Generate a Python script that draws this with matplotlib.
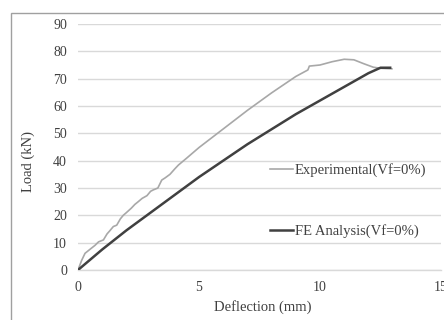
import matplotlib.pyplot as plt
from matplotlib.patches import Rectangle

# values
exp_defl = [0, 0.15, 0.29, 0.5, 0.7, 0.85, 1.05, 1.2, 1.3, 1.46, 1.6, 1.75, 1.87,
            2.0, 2.2, 2.35, 2.49, 2.65, 2.85, 3.0, 3.11, 3.3, 3.46, 3.6, 3.8, 4.0,
            4.15, 4.5, 5.0, 5.5, 6.0, 6.5, 7.0, 7.5, 8.0, 8.5, 9.0, 9.46, 9.5,
            9.56, 10.0, 10.5, 11.0, 11.4, 11.8, 12.2, 12.5, 12.97]
exp_load = [0, 3.5, 6.1, 7.6, 9.0, 10.3, 11.0, 13.2, 14.2, 15.9, 16.4, 18.7, 20.0,
            21.0, 22.6, 24.0, 25.0, 26.2, 27.2, 28.8, 29.3, 30.0, 32.9, 33.7, 35.0, 37.0,
            38.4, 41.0, 44.8, 48.2, 51.6, 55.0, 58.4, 61.6, 64.8, 67.8, 70.8, 73.0, 73.2,
            74.6, 75.0, 76.2, 77.1, 76.9, 75.5, 74.2, 73.8, 73.6]

fe_defl = [0, 1, 2, 3, 4, 5, 6, 7, 8, 9, 10, 11, 12, 12.5, 12.9]
fe_load = [0, 7.5, 14.5, 21, 27.5, 34, 40, 46, 51.5, 57, 62, 67, 72, 74, 74]

x_ticks = [0, 5, 10, 15]
y_ticks = [0, 10, 20, 30, 40, 50, 60, 70, 80, 90]

plt.rcParams["font.family"] = ["Liberation Serif", "DejaVu Serif"]
TEXT = "#404040"

fig = plt.figure(figsize=(4.44, 3.2), dpi=100)
fig.patches.append(Rectangle((11 / 444, -0.1), 1.0, 1 - 13 / 320 + 0.1,
                             transform=fig.transFigure, fill=False,
                             edgecolor="#a0a0a0", linewidth=1.0, clip_on=False))

ax = fig.add_axes([78 / 444, 1 - 270 / 320, 363 / 444, 246 / 320])
ax.plot(exp_defl, exp_load, color="#a8a8a8", linewidth=1.2,
        label="Experimental(Vf=0%)", zorder=3)
ax.plot(fe_defl, fe_load, color="#404040", linewidth=1.8,
        label="FE Analysis(Vf=0%)", zorder=3)

ax.set_xlim(0, 15)
ax.set_ylim(0, 90)
ax.set_xticks(x_ticks)
ax.set_yticks(y_ticks)
ax.tick_params(length=0, labelsize=10, colors=TEXT, pad=8)
ax.yaxis.grid(True, color="#d9d9d9", linewidth=1.0)
ax.set_axisbelow(True)
for side in ["top", "right", "left"]:
    ax.spines[side].set_visible(False)
ax.spines["bottom"].set_color("#d9d9d9")
ax.spines["bottom"].set_linewidth(1.0)

ax.set_xlabel("Deflection (mm)", fontsize=10.5, color=TEXT, va="center")
ax.xaxis.set_label_coords(0.508, -37 / 246)
ax.set_ylabel("Load (kN)", fontsize=10.5, color=TEXT, va="center")
ax.yaxis.set_label_coords(-50 / 363, 0.44)

ax.legend(loc="center left", bbox_to_anchor=((263 - 78) / 363, (270 - 200.5) / 246),
          frameon=False, fontsize=10.5, labelspacing=3.25, handlelength=1.55,
          handletextpad=0.15, borderpad=0, labelcolor=TEXT)

fig.savefig("out.png", dpi=100)
